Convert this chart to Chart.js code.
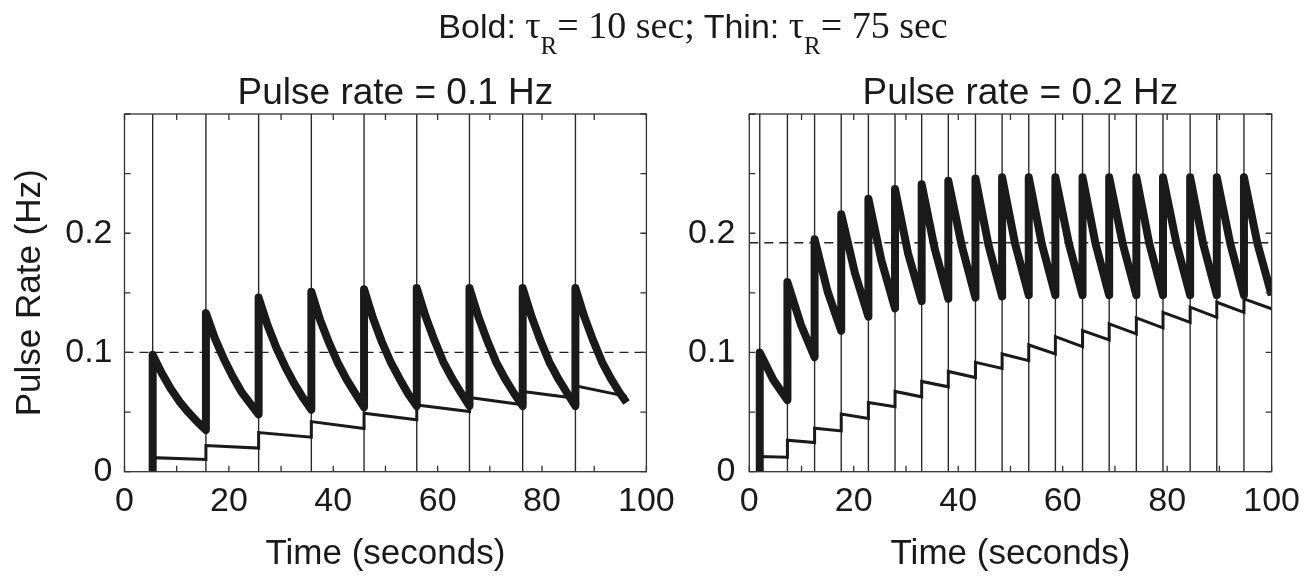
<!DOCTYPE html>
<html>
<head>
<meta charset="utf-8">
<script src="https://cdn.jsdelivr.net/npm/chart.js@4.4.1/dist/chart.umd.min.js"></script>
<style>
  html, body { margin: 0; padding: 0; background: #fff; }
  #wrap { position: relative; width: 1310px; height: 578px; overflow: hidden; }
  #wrap canvas { position: absolute; left: 0; top: 0; }
  #suptitle {
    position: absolute; left: 0; top: 6px; width: 1386px; text-align: center;
    color: #1a1a1a; white-space: nowrap; line-height: 38px;
  }
  #suptitle .sans { font-family: "Liberation Sans", Arial, sans-serif; font-size: 34px; }
  #suptitle .serif { font-family: "Liberation Serif", "Times New Roman", serif; font-size: 38px; }
  #suptitle sub { font-size: 25px; vertical-align: -16px; line-height: 0; }
</style>
</head>
<body>
<div id="wrap">
  <canvas id="left" width="1310" height="578"></canvas>
  <canvas id="right" width="1310" height="578"></canvas>
  <div id="suptitle"><span class="sans">Bold:</span><span class="serif"> &tau;<sub>R</sub>= 10 sec;</span><span class="sans"> Thin:</span><span class="serif"> &tau;<sub>R</sub>= 75 sec</span></div>
</div>
<script>
// panel titles
const leftTitle = "Pulse rate = 0.1 Hz";
const rightTitle = "Pulse rate = 0.2 Hz";

// ---- left panel, 0.1 Hz ----
const leftPulses = [5.4, 15.6, 25.7, 35.8, 45.9, 56.0, 66.1, 76.3, 86.4];
const leftDashed = 0.1;

// bold trace (tau = 10 s)
const leftBoldT = [5.4, 5.4, 7.1, 8.8, 10.5, 12.2, 13.9, 15.6,
    15.6, 17.3, 19.0, 20.7, 22.4, 24.1, 25.7,
    25.7, 27.4, 29.1, 30.8, 32.5, 34.2, 35.8,
    35.8, 37.5, 39.2, 40.9, 42.6, 44.3, 45.9,
    45.9, 47.6, 49.3, 51.0, 52.7, 54.4, 56.0,
    56.0, 57.7, 59.4, 61.1, 62.8, 64.5, 66.1,
    66.1, 67.8, 69.5, 71.2, 72.9, 74.6, 76.3,
    76.3, 78.0, 79.7, 81.4, 83.1, 84.8, 86.4,
    86.4, 88.1, 89.8, 91.5, 93.2, 94.9, 96.2];
const leftBoldY = [0, 0.098, 0.083, 0.070, 0.059, 0.050, 0.042, 0.035,
    0.133, 0.112, 0.095, 0.080, 0.067, 0.057, 0.048,
    0.146, 0.123, 0.104, 0.088, 0.074, 0.062, 0.052,
    0.151, 0.127, 0.108, 0.091, 0.077, 0.065, 0.054,
    0.153, 0.129, 0.109, 0.092, 0.078, 0.065, 0.055,
    0.154, 0.130, 0.110, 0.092, 0.078, 0.066, 0.055,
    0.154, 0.130, 0.110, 0.092, 0.078, 0.066, 0.055,
    0.154, 0.130, 0.110, 0.092, 0.078, 0.066, 0.055,
    0.154, 0.130, 0.110, 0.092, 0.078, 0.066, 0.058];

// thin trace (tau = 75 s)
const leftThinT = [5.4, 5.4, 15.6, 15.6, 25.7, 25.7, 35.8, 35.8, 45.9, 45.9,
    56.0, 56.0, 66.1, 66.1, 76.3, 76.3, 86.4, 86.4, 96.2];
const leftThinY = [0, 0.0118, 0.0102, 0.0220, 0.0198, 0.0328, 0.0290, 0.0420, 0.0362, 0.0490,
    0.0436, 0.0560, 0.0505, 0.0622, 0.0562, 0.0672, 0.0616, 0.0720, 0.0632];

// ---- right panel, 0.2 Hz ----
const rightPulses = [2.0, 7.3, 12.5, 17.6, 22.8, 27.9, 33.0, 38.1, 43.3, 48.4,
    53.5, 58.6, 63.8, 68.9, 74.1, 79.2, 84.4, 89.5, 94.7];
const rightDashed = 0.192;

const rightBoldT = [2.0, 2.0, 4.6, 7.3,
    7.3, 9.9, 12.5,
    12.5, 15.0, 17.6,
    17.6, 20.2, 22.8,
    22.8, 25.3, 27.9,
    27.9, 30.4, 33.0,
    33.0, 35.5, 38.1,
    38.1, 40.7, 43.3,
    43.3, 45.8, 48.4,
    48.4, 50.9, 53.5,
    53.5, 56.0, 58.6,
    58.6, 61.2, 63.8,
    63.8, 66.3, 68.9,
    68.9, 71.5, 74.1,
    74.1, 76.6, 79.2,
    79.2, 81.8, 84.4,
    84.4, 86.9, 89.5,
    89.5, 92.1, 94.7,
    94.7, 97.3, 100];
const rightBoldY = [0, 0.100, 0.077, 0.060,
    0.159, 0.123, 0.096,
    0.195, 0.151, 0.118,
    0.216, 0.167, 0.130,
    0.229, 0.177, 0.137,
    0.237, 0.183, 0.143,
    0.241, 0.187, 0.145,
    0.244, 0.189, 0.146,
    0.246, 0.190, 0.147,
    0.247, 0.191, 0.148,
    0.247, 0.191, 0.148,
    0.247, 0.191, 0.148,
    0.247, 0.191, 0.148,
    0.247, 0.191, 0.148,
    0.247, 0.191, 0.148,
    0.247, 0.191, 0.148,
    0.247, 0.191, 0.148,
    0.247, 0.191, 0.148,
    0.247, 0.191, 0.148];

const rightThinT = [2.0, 2.0, 7.3, 7.3, 12.5, 12.5, 17.6, 17.6, 22.8, 22.8,
    27.9, 27.9, 33.0, 33.0, 38.1, 38.1, 43.3, 43.3, 48.4, 48.4,
    53.5, 53.5, 58.6, 58.6, 63.8, 63.8, 68.9, 68.9, 74.1, 74.1,
    79.2, 79.2, 84.4, 84.4, 89.5, 89.5, 94.7, 94.7, 100];
const rightThinY = [0, 0.0128, 0.0122, 0.0264, 0.0244, 0.0365, 0.0342, 0.0483, 0.0446, 0.0580,
    0.0544, 0.0673, 0.0628, 0.0757, 0.0712, 0.0841, 0.0790, 0.0917, 0.0866, 0.0987,
    0.0931, 0.1063, 0.0987, 0.1133, 0.1049, 0.1183, 0.1105, 0.1240, 0.1156, 0.1290,
    0.1206, 0.1337, 0.1253, 0.1380, 0.1295, 0.1421, 0.1337, 0.1450, 0.1366];

const xTickLabels = [0, 20, 40, 60, 80, 100];
const yTickLabels = [0, 0.1, 0.2];

const INK = "#1a1a1a";
const SANS = "'Liberation Sans', Arial, Helvetica, sans-serif";

function toPoints(ts, ys) {
    const pts = [];
    for (let i = 0; i < ts.length; i++) {
        pts.push({ x: ts[i], y: ys[i] });
    }
    return pts;
}

// vertical pulse markers from the bottom to the top of the axes
function pulsePoints(times, top) {
    const pts = [];
    times.forEach((t) => {
        pts.push({ x: t, y: 0 });
        pts.push({ x: t, y: top });
        pts.push({ x: t, y: null });
    });
    return pts;
}

// matlab style box with inward ticks on all four sides
const boxTicks = {
    id: "boxTicks",
    afterDatasetsDraw(chart) {
        const { ctx, chartArea: a, scales } = chart;
        const len = 6;
        ctx.save();
        ctx.strokeStyle = "#333";
        ctx.lineWidth = 1.3;
        ctx.beginPath();
        scales.x.ticks.forEach((t) => {
            const px = scales.x.getPixelForValue(t.value);
            ctx.moveTo(px, a.bottom);
            ctx.lineTo(px, a.bottom - len);
            ctx.moveTo(px, a.top);
            ctx.lineTo(px, a.top + len);
        });
        scales.y.ticks.forEach((t) => {
            const py = scales.y.getPixelForValue(t.value);
            ctx.moveTo(a.left, py);
            ctx.lineTo(a.left + len, py);
            ctx.moveTo(a.right, py);
            ctx.lineTo(a.right - len, py);
        });
        ctx.stroke();
        ctx.strokeRect(a.left, a.top, a.right - a.left, a.bottom - a.top);
        ctx.restore();
    },
};

// panel title, drawn a little right of the axes centre as in the figure
const panelTitle = {
    id: "panelTitle",
    afterDraw(chart, args, opts) {
        const { ctx, chartArea: a } = chart;
        ctx.save();
        ctx.fillStyle = INK;
        ctx.font = "37px " + SANS;
        ctx.textAlign = "center";
        ctx.textBaseline = "alphabetic";
        ctx.fillText(opts.text, (a.left + a.right) / 2 + 10, a.top - 10);
        ctx.restore();
    },
};

function makePanel(id, cfg) {
    const yMax = 0.3;
    new Chart(document.getElementById(id), {
        type: "line",
        data: {
            datasets: [
                {
                    data: toPoints(cfg.boldT, cfg.boldY),
                    borderColor: INK,
                    borderWidth: 8,
                    borderJoinStyle: "round",
                    borderCapStyle: "butt",
                },
                {
                    data: toPoints(cfg.thinT, cfg.thinY),
                    borderColor: INK,
                    borderWidth: 3,
                    borderJoinStyle: "miter",
                },
                {
                    data: [{ x: 0, y: cfg.dashed }, { x: 100, y: cfg.dashed }],
                    borderColor: "#222",
                    borderWidth: 1.3,
                    borderDash: [9, 6],
                },
                {
                    data: pulsePoints(cfg.pulses, yMax),
                    borderColor: "#2a2a2a",
                    borderWidth: 1.4,
                    spanGaps: false,
                },
            ],
        },
        options: {
            responsive: false,
            animation: false,
            events: [],
            elements: { point: { radius: 0 }, line: { tension: 0, fill: false } },
            layout: { padding: cfg.padding },
            plugins: {
                legend: { display: false },
                tooltip: { enabled: false },
                title: { display: false },
                panelTitle: { text: cfg.title },
            },
            scales: {
                x: {
                    type: "linear",
                    min: 0,
                    max: 100,
                    grid: { display: false, drawTicks: false },
                    border: { display: false },
                    afterFit: (s) => { s.height = 106.3; },
                    ticks: {
                        stepSize: 10,
                        maxRotation: 0,
                        autoSkip: false,
                        padding: 10,
                        color: INK,
                        font: { family: SANS, size: 34 },
                        callback: (v) => (xTickLabels.includes(v) ? String(v) : ""),
                    },
                    title: {
                        display: true,
                        text: "Time (seconds)",
                        color: INK,
                        font: { family: SANS, size: 35 },
                        padding: { top: 0, bottom: 3 },
                    },
                },
                y: {
                    type: "linear",
                    min: 0,
                    max: yMax,
                    grid: { display: false, drawTicks: false },
                    border: { display: false },
                    afterFit: (s) => { s.width = cfg.yWidth; },
                    ticks: {
                        stepSize: 0.05,
                        autoSkip: false,
                        padding: cfg.yPad,
                        color: INK,
                        font: { family: SANS, size: 34 },
                        callback: (v) => {
                            const hit = yTickLabels.find((l) => Math.abs(l - v) < 1e-6);
                            return hit === undefined ? "" : String(hit);
                        },
                    },
                    title: {
                        display: cfg.yTitle,
                        text: "Pulse Rate (Hz)",
                        color: INK,
                        font: { family: SANS, size: 35 },
                        padding: { top: 9, bottom: 0 },
                    },
                },
            },
        },
        plugins: [boxTicks, panelTitle],
    });
}

makePanel("left", {
    title: leftTitle,
    pulses: leftPulses,
    dashed: leftDashed,
    boldT: leftBoldT, boldY: leftBoldY,
    thinT: leftThinT, thinY: leftThinY,
    padding: { left: 0, right: 663.6, top: 114, bottom: 0 },
    yWidth: 124.5,
    yPad: 12,
    yTitle: true,
});

makePanel("right", {
    title: rightTitle,
    pulses: rightPulses,
    dashed: rightDashed,
    boldT: rightBoldT, boldY: rightBoldY,
    thinT: rightThinT, thinY: rightThinY,
    padding: { left: 649.3, right: 38.3, top: 114, bottom: 0 },
    yWidth: 100,
    yPad: 14,
    yTitle: false,
});
</script>
</body>
</html>
